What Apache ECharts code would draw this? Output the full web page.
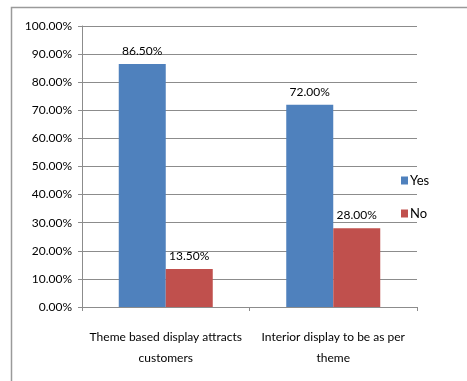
<!DOCTYPE html>
<html lang="en">
<head>
    <meta charset="utf-8">
    <title>Theme display</title>
    <script src="https://cdn.jsdelivr.net/npm/echarts@6/dist/echarts.min.js"></script>
    <style>
        html, body { margin: 0; padding: 0; background: #fff; }
        #main { width: 467px; height: 381px; }
    </style>
</head>
<body>
<div id="main"></div>
<script type="text/javascript">
    // data
    var categories = ['Theme based display attracts\ncustomers', 'Interior display to be as per\ntheme'];
    var yesValues = [86.5, 72.0];
    var noValues = [13.5, 28.0];
    var seriesNames = ['Yes', 'No'];

    var font = 'Lato, "Open Sans", sans-serif';
    var myChart = echarts.init(document.getElementById('main'));

    var labelOpt = {
        show: true,
        position: 'top',
        distance: 7,
        color: '#000',
        fontFamily: font,
        fontSize: 12,
        formatter: function (p) { return p.value.toFixed(2) + '%'; }
    };

    var option = {
        animation: false,
        backgroundColor: '#fff',
        textStyle: { fontFamily: font },
        graphic: [
            {
                // outer chart frame (left + top edges)
                type: 'polyline',
                shape: { points: [[11.5, 381], [11.5, 7.5], [467, 7.5]] },
                style: { stroke: '#9a9a9a', lineWidth: 1.5, fill: null }
            },
            {
                // caption text from the page above, mostly cut off
                type: 'text',
                left: 95, top: -18,
                style: { text: 'Survey rating', font: '18px "Liberation Serif", serif', fill: '#000' }
            }
        ],
        legend: {
            data: seriesNames,
            orient: 'vertical',
            left: 396,
            top: 169,
            itemWidth: 7,
            itemHeight: 8,
            itemGap: 20,
            icon: 'rect',
            textStyle: { color: '#000', fontFamily: font, fontSize: 13, padding: [0, 0, 0, -3] }
        },
        grid: { left: 82, right: 50, top: 26, bottom: 74 },
        xAxis: {
            type: 'category',
            data: categories,
            axisLine: { lineStyle: { color: '#8c8c8c' } },
            axisTick: { show: true, length: 4, lineStyle: { color: '#8c8c8c' } },
            axisLabel: { interval: 0, color: '#000', fontFamily: font, fontSize: 12, margin: 20, lineHeight: 21 }
        },
        yAxis: {
            type: 'value',
            min: 0,
            max: 100,
            interval: 10,
            axisLine: { show: true, lineStyle: { color: '#8c8c8c' } },
            axisTick: { show: true, length: 4, lineStyle: { color: '#8c8c8c' } },
            splitLine: { lineStyle: { color: '#8c8c8c' } },
            axisLabel: {
                color: '#000', fontFamily: font, fontSize: 12, margin: 10,
                formatter: function (v) { return v.toFixed(2) + '%'; }
            }
        },
        series: [
            {
                name: seriesNames[0], type: 'bar', data: yesValues,
                barWidth: 47, barGap: '0%',
                itemStyle: { color: '#4f81bd' },
                label: labelOpt
            },
            {
                name: seriesNames[1], type: 'bar', data: noValues,
                barWidth: 47,
                itemStyle: { color: '#c0504d' },
                label: labelOpt
            }
        ]
    };

    myChart.setOption(option);
</script>
</body>
</html>
